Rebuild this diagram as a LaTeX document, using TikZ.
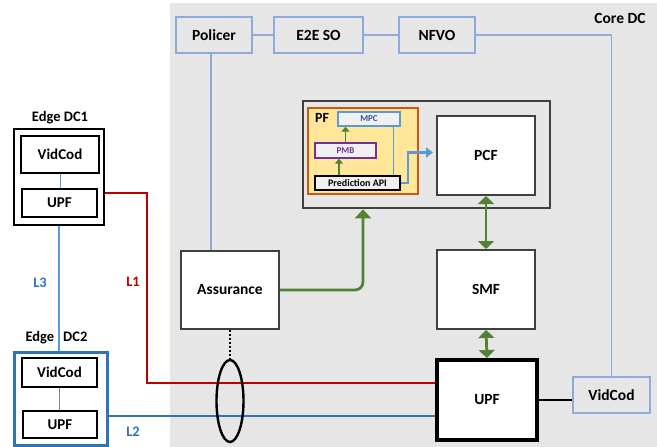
\documentclass[tikz,border=0pt]{standalone}
\usepackage{fontspec}
\setmainfont{Carlito}
\usepackage{tikz}
\usetikzlibrary{arrows.meta,positioning,calc,shapes.geometric}
\definecolor{coregray}{HTML}{E7E6E6}
\definecolor{framegray}{HTML}{404040}
\definecolor{lightblue}{HTML}{8FAADC}
\definecolor{linkblue}{HTML}{5B9BD5}
\definecolor{edgeblue}{HTML}{2E75B6}
\definecolor{pfyellow}{HTML}{FFE699}
\definecolor{pforange}{HTML}{C55A11}
\definecolor{pmbpurple}{HTML}{7030A0}
\definecolor{mpctext}{HTML}{2F5597}
\definecolor{flowgreen}{HTML}{548235}
\definecolor{linkred}{HTML}{C00000}

\begin{document}
\begin{tikzpicture}[x=1pt, y=-1pt,
  nf/.style={draw=framegray, line width=2pt, fill=white, inner sep=0pt,
             font=\fontsize{15.5}{17}\selectfont\bfseries},
  orch/.style={draw=lightblue, line width=1.8pt, fill=coregray, inner sep=0pt,
               minimum width=76pt, minimum height=36pt,
               font=\fontsize{15.5}{17}\selectfont\bfseries},
  edgebox/.style={draw=black, line width=2.6pt, fill=white, inner sep=0pt,
                  font=\fontsize{15}{16}\selectfont\bfseries},
  pfbox/.style={line width=1.3pt, fill=coregray!60!white, inner sep=0pt,
                minimum height=14pt, font=\fontsize{9}{10}\selectfont\bfseries},
  lbl/.style={font=\fontsize{14.5}{16}\selectfont\bfseries},
  thinblue/.style={draw=lightblue, line width=1.2pt},
  garr/.style={draw=flowgreen, line width=2.8pt, -{Triangle[length=9pt,width=16pt]}},
  gdbl/.style={draw=flowgreen, line width=2.8pt, {Triangle[length=8pt,width=16pt]}-{Triangle[length=8pt,width=16pt]}},
  gsmall/.style={draw=flowgreen, line width=1.5pt, -{Triangle[length=5pt,width=8pt]}}
]
\useasboundingbox (0,0) rectangle (657,447);
% core data centre area
\fill[coregray] (170,3) rectangle (657,447);
\node[lbl, font=\fontsize{15.5}{17}\selectfont\bfseries] (corelbl) at (620,18) {Core DC};

% orchestration row
\node[orch] (policer) at (214,35) {Policer};
\node[orch, minimum width=89pt] (e2eso) at (318.5,35) {E2E SO};
\node[orch] (nfvo) at (437,35) {NFVO};
\node[orch, minimum width=77pt] (vidc) at (611.5,395) {VidCod};
\draw[thinblue] (policer) -- (e2eso);
\draw[thinblue] (e2eso) -- (nfvo);
\draw[thinblue] (nfvo.east) -| (vidc.north);

% PCF with prediction function
\node[draw=framegray, line width=2.6pt, fill=coregray, minimum width=247pt,
      minimum height=107pt] (pcfzone) at (426.5,154.5) {};
\node[draw=pforange, line width=2pt, fill=pfyellow, minimum width=110pt,
      minimum height=86pt] (pf) at (363,151) {};
\node[font=\fontsize{14}{15}\selectfont\bfseries] (pflbl) at (322,118) {PF};
\node[pfbox, draw=linkblue, text=mpctext, minimum width=62pt] (mpc) at (369,119) {MPC};
\node[pfbox, draw=pmbpurple, text=pmbpurple, minimum width=61pt, minimum height=15pt] (pmb) at (345.5,150.5) {PMB};
\node[pfbox, draw=black, line width=1.8pt, font=\fontsize{10}{11}\selectfont\bfseries,
      minimum width=85pt] (predapi) at (357.5,183) {Prediction API};
\node[nf, minimum width=98pt, minimum height=79pt] (pcf) at (486,155.5) {PCF};
\draw[gsmall] ([xshift=-18.5pt]predapi.north) -- ([xshift=-18.5pt]predapi.north |- pmb.south);
\draw[gsmall] (pmb.north) -- (pmb.north |- mpc.south);
\draw[draw=linkblue, line width=1pt] ([xshift=24pt]mpc.south) -- ([xshift=24pt]mpc.south |- predapi.north);
\draw[draw=linkblue, line width=2.4pt, -{Triangle[length=7pt,width=10pt]}, shorten >=3pt]
  (predapi.east) -- ++(7,0) |- ([yshift=3pt]pcf.west);

% core functions
\node[nf, minimum width=98pt, minimum height=79pt] (smf) at (486,289.5) {SMF};
\node[nf, draw=black, line width=4pt, minimum width=100pt, minimum height=80pt] (upfc) at (487,400) {UPF};
\node[nf, minimum width=98pt, minimum height=78pt] (assur) at (230,290) {Assurance};
\draw[gdbl] (pcf.south) -- (smf.north);
\draw[gdbl] (smf.south) -- (upfc.north);
\draw[garr, rounded corners=8pt] (assur.east) -| (pf.south |- pcfzone.south);
\draw[thinblue] ([xshift=-3pt]policer.south) -- ([xshift=-3pt]policer.south |- assur.north);
\draw[line width=2.8pt] (upfc.east) -- (upfc.east -| vidc.west);

% edge data centres
\node[draw=black, line width=2pt, fill=white, minimum width=90pt, minimum height=96pt] (edge1) at (59,177) {};
\node[lbl] (edge1lbl) at (60,118) {Edge DC1};
\node[edgebox, minimum width=78pt, minimum height=37pt] (vidc1) at (60,154.5) {VidCod};
\node[edgebox, minimum width=75pt, minimum height=28pt] (upf1) at (59.5,203) {UPF};
\draw[draw=linkblue!70!gray, line width=0.8pt] (vidc1.south) -- (vidc1.south |- upf1.north);

\node[draw=edgeblue, line width=3pt, fill=white, minimum width=93pt, minimum height=93pt] (edge2) at (60.5,398.5) {};
\node[lbl] (edge2lbl) at (56.5,338) {Edge\hspace{9pt}DC2};
\node[edgebox, minimum width=75pt, minimum height=29pt] (vidc2) at (59.5,372.5) {VidCod};
\node[edgebox, minimum width=74pt, minimum height=27pt] (upf2) at (60,424.5) {UPF};
\draw[draw=gray, line width=0.8pt] (vidc2.south) -- (vidc2.south |- upf2.north);

% transport links
\draw[draw=linkblue, line width=2.6pt] (edge1.south) -- (edge1.south |- edge2.north);
\node[lbl, text=edgeblue] (l3) at (40,283) {L3};
\draw[draw=linkred, line width=2.8pt] ([yshift=10pt]upf1.east -| edge1.east) -- ++(42,0)
  |- ([yshift=17pt]upfc.west);
\node[lbl, text=linkred] (l1) at (133,282) {L1};
\coordinate (l2end) at ([yshift=-16pt]upfc.west);
\draw[draw=edgeblue, line width=2.8pt] (edge2.east |- l2end) -- (l2end);
\node[lbl, text=edgeblue] (l2) at (133,432) {L2};

% monitored links
\node[draw=black, line width=2.4pt, ellipse, minimum width=27pt, minimum height=82pt] (mon) at (230,401) {};
\draw[line width=2pt, dotted] (assur.south) -- (mon.north);
\end{tikzpicture}
\end{document}
